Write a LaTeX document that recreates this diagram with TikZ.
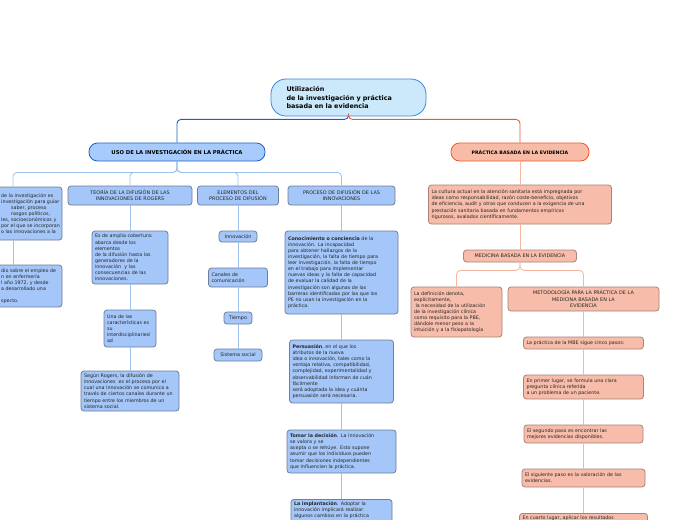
\documentclass[tikz,border=0pt]{standalone}
\usepackage{fontspec}
\setmainfont{DejaVu Sans}
\usepackage{tikz}
\usepackage{xcolor}

\definecolor{rootfill}{HTML}{CBE9FB}
\definecolor{rootdraw}{HTML}{3B86D9}
\definecolor{usofill}{HTML}{A8CBFE}
\definecolor{usodraw}{HTML}{1E63C8}
\definecolor{subfill}{HTML}{A4C6F8}
\definecolor{subdraw}{HTML}{6E7F99}
\definecolor{bluemain}{HTML}{1D5EC0}
\definecolor{bluethin}{HTML}{9EC2F0}
\definecolor{pbefill}{HTML}{F8BBA6}
\definecolor{pbedraw}{HTML}{EE5A2E}
\definecolor{salfill}{HTML}{F7BDAA}
\definecolor{saldraw}{HTML}{A88478}
\definecolor{salthin}{HTML}{F6B7A0}

\begin{document}
\begin{tikzpicture}[x=1pt, y=-1pt,
	boxtext/.style={font=\fontsize{4.8}{6.1}\selectfont, text=black!85, inner xsep=3pt, inner ysep=1pt, align=left},
	capstext/.style={font=\fontsize{4.9}{6.3}\selectfont, text=black!85, inner xsep=3pt, inner ysep=1pt, align=center},
	bluebox/.style={draw=subdraw, line width=0.8pt, fill=subfill, rounded corners=3pt},
	salbox/.style={draw=saldraw, line width=0.8pt, fill=salfill, rounded corners=3pt},
	bluelink/.style={draw=bluethin, line width=0.8pt, rounded corners=4pt},
	sallink/.style={draw=salthin, line width=0.8pt, rounded corners=4pt}]
	\clip (0,0) rectangle (697,520);
	\fill[white] (0,0) rectangle (697,520);

	% Raiz
	\node[draw=rootdraw, line width=0.8pt, fill=rootfill, rounded corners=15pt, minimum width=155pt, minimum height=37pt, text width=124pt, align=left, font=\bfseries\fontsize{6.4}{8.6}\selectfont, inner xsep=0pt] (root) at (348.5,97.5) {Utilización\\de la investigación y práctica\\basada en la evidencia};

	% Ramas principales
	\node[draw=usodraw, line width=0.8pt, fill=usofill, rounded corners=8.5pt, minimum width=176pt, minimum height=18pt, font=\bfseries\fontsize{5.3}{6}\selectfont] (uso) at (177,152) {USO DE LA INVESTIGACIÓN EN LA PRÁCTICA};
	\node[draw=pbedraw, line width=0.8pt, fill=pbefill, rounded corners=8.5pt, minimum width=138pt, minimum height=18pt, font=\bfseries\fontsize{4.7}{6}\selectfont] (pbe) at (520,152) {PRÁCTICA BASADA EN LA EVIDENCIA};

	\draw[bluemain, line width=0.9pt, rounded corners=4pt] (root.south) -- ++(0,3) -| (uso.north);
	\draw[pbedraw, line width=0.9pt, rounded corners=4pt] (root.south) -- ++(0,3) -| (pbe.north);

	% Columna cortada a la izquierda
	\node[bluebox, minimum width=98pt, minimum height=53pt] (leftA) at (13,213.5) {};
	\node[boxtext, anchor=west, inner xsep=0pt] (leftAtext) at (1,213.5) {de la investigación es\\investigación para guiar\\\hspace*{10pt}saber, proceso\\\hspace*{10pt}rasgos políticos,\\les, socioeconómicos y\\por el que se incorporan\\o las innovaciones a la};
	\node[bluebox, minimum width=98pt, minimum height=42pt] (leftB) at (13,286) {};
	\node[boxtext, anchor=west, inner xsep=0pt] (leftBtext) at (1,286) {dio sobre el empleo de\\n en enfermería\\l año 1972, y desde\\a desarrollado una\\[6.1pt]specto.};

	% Teoria de Rogers
	\node[bluebox, capstext, minimum width=124pt, minimum height=19pt, text width=118pt] (teoria) at (130,195.5) {TEORÍA DE LA DIFUSIÓN DE LAS\\INNOVACIONES DE ROGERS};
	\node[bluebox, boxtext, minimum height=53pt, text width=70pt] (amplia) at (130,257.5) {Es de amplia cobertura:\\abarca desde los\\elementos\\de la difusión hasta los\\generadores de la\\innovación\ \ y las\\consecuencias de las\\innovaciones.};
	\node[bluebox, boxtext, minimum height=37pt, text width=46pt] (unade) at (130,328.5) {Una de las\\características es\\su\\interdisciplinaried\\ad};
	\node[bluebox, boxtext, minimum height=40pt, text width=92pt] (segun) at (130,391) {Según Rogers, la difusión de\\innovaciones\ \ es el proceso por el\\cual una innovación se comunica a\\través de ciertos canales durante un\\tiempo entre los miembros de un\\sistema social.};

	% Elementos del proceso
	\node[bluebox, capstext, minimum width=81pt, minimum height=19pt, text width=75pt] (elementos) at (238,195.5) {ELEMENTOS DEL\\PROCESO DE DIFUSIÓN};
	\node[bluebox, capstext, minimum width=38pt, minimum height=11pt] (innovacion) at (238,236.5) {Innovación};
	\node[bluebox, boxtext, minimum height=19pt, text width=53pt] (canales) at (238,277.5) {Canales de\\comunicación};
	\node[bluebox, capstext, minimum width=28pt, minimum height=12pt] (tiempo) at (238,318) {Tiempo};
	\node[bluebox, capstext, minimum width=48pt, minimum height=12pt] (sistema) at (238,355) {Sistema social};

	% Proceso de difusion
	\node[bluebox, capstext, minimum width=107pt, minimum height=19pt, text width=101pt] (proceso) at (341.5,195.5) {PROCESO DE DIFUSIÓN DE LAS\\INNOVACIONES};
	\node[bluebox, boxtext, minimum height=83pt, text width=107pt] (conocimiento) at (341.5,272.5) {\textbf{Conocimiento o conciencia} de la\\innovación. La incapacidad\\para obtener hallazgos de la\\investigación, la falta de tiempo para\\leer investigación, la falta de tiempo\\en el trabajo para implementar\\nuevas ideas y la falta de capacidad\\de evaluar la calidad de la\\investigación son algunas de las\\barreras identificadas por las que los\\PE no usan la investigación en la\\práctica.};
	\node[bluebox, boxtext, minimum height=63pt, text width=98pt] (persuasion) at (341.5,371.5) {\textbf{Persuasión}, en el que los\\atributos de la nueva\\idea o innovación, tales como la\\ventaja relativa, compatibilidad,\\complejidad, experimentalidad y\\observabilidad informan de cuán\\fácilmente\\será adoptada la idea y cuánta\\persuasión será necesaria.};
	\node[bluebox, boxtext, minimum height=43pt, text width=103pt] (decision) at (341.5,451.5) {\textbf{Tomar la decisión}. La innovación\\se valora y se\\acepta o se rehúye. Esto supone\\asumir que los individuos pueden\\tomar decisiones independientes\\que influencien la práctica.};
	\node[bluebox, boxtext, inner ysep=2.5pt, text width=95pt, anchor=north] (implantacion) at (341.5,499) {\textbf{La implantación}. Adoptar la\\innovación implicará realizar\\algunos cambios en la práctica\\\mbox{}\\\mbox{}\\\mbox{}};

	\foreach \kid in {leftA, teoria, elementos, proceso}
		\draw[bluelink] (uso.south) -- ++(0,11) -| (\kid.north);
	\draw[bluelink] (leftA) -- (leftB);
	\draw[bluelink] (teoria) -- (amplia) -- (unade) -- (segun);
	\draw[bluelink] (elementos) -- (innovacion) -- (canales) -- (tiempo) -- (sistema);
	\draw[bluelink] (proceso) -- (conocimiento) -- (persuasion) -- (decision) -- (implantacion);

	% Practica basada en la evidencia
	\node[salbox, boxtext, minimum height=39pt, text width=177pt] (cultura) at (520,204.5) {La cultura actual en la atención sanitaria está impregnada por\\ideas como responsabilidad, razón coste-beneficio, objetivos\\de eficiencia, audit y otras que conducen a la exigencia de una\\prestación sanitaria basada en fundamentos empíricos\\rigurosos, avalados científicamente.};
	\node[salbox, capstext, minimum width=113pt, minimum height=12pt] (mbe) at (520,256) {MEDICINA BASADA EN LA EVIDENCIA};
	\node[salbox, boxtext, minimum height=50pt, text width=85pt] (definicion) at (456.5,312) {La definición denota,\\explícitamente,\\\ la necesidad de la utilización\\de la investigación clínica\\como requisito para la PBE,\\dándole menor peso a la\\intuición y a la fisiopatología};
	\node[salbox, capstext, minimum width=151pt, minimum height=24pt, text width=145pt] (metodologia) at (583.5,299) {METODOLOGÍA PARA LA PRÁCTICA DE LA\\MEDICINA BASADA EN LA\\EVIDENCIA};
	\node[salbox, boxtext, minimum height=12pt, text width=114pt] (pasos) at (583.5,343) {La práctica de la MBE sigue cinco pasos:};
	\node[salbox, boxtext, minimum height=24pt, text width=114pt] (primero) at (583.5,387) {En primer lugar, se formula una clara\\pregunta clínica referida\\a un problema de un paciente.};
	\node[salbox, boxtext, minimum height=18pt, text width=113pt] (segundo) at (583.5,434) {El segundo paso es encontrar las\\mejores evidencias disponibles.};
	\node[salbox, boxtext, minimum height=18pt, text width=117pt] (siguiente) at (583.5,478) {El siguiente paso es la valoración de las\\evidencias.};
	\node[salbox, boxtext, inner ysep=2.5pt, text width=122pt, anchor=north] (cuarto) at (583.5,513) {En cuarto lugar, aplicar los resultados\\\mbox{}\\\mbox{}};

	\draw[sallink] (pbe) -- (cultura) -- (mbe);
	\draw[sallink] (mbe.south) -- ++(0,8) -| (definicion.north);
	\draw[sallink] (mbe.south) -- ++(0,8) -| (metodologia.north);
	\draw[sallink] (metodologia) -- (pasos) -- (primero) -- (segundo) -- (siguiente) -- (cuarto);
\end{tikzpicture}
\end{document}
